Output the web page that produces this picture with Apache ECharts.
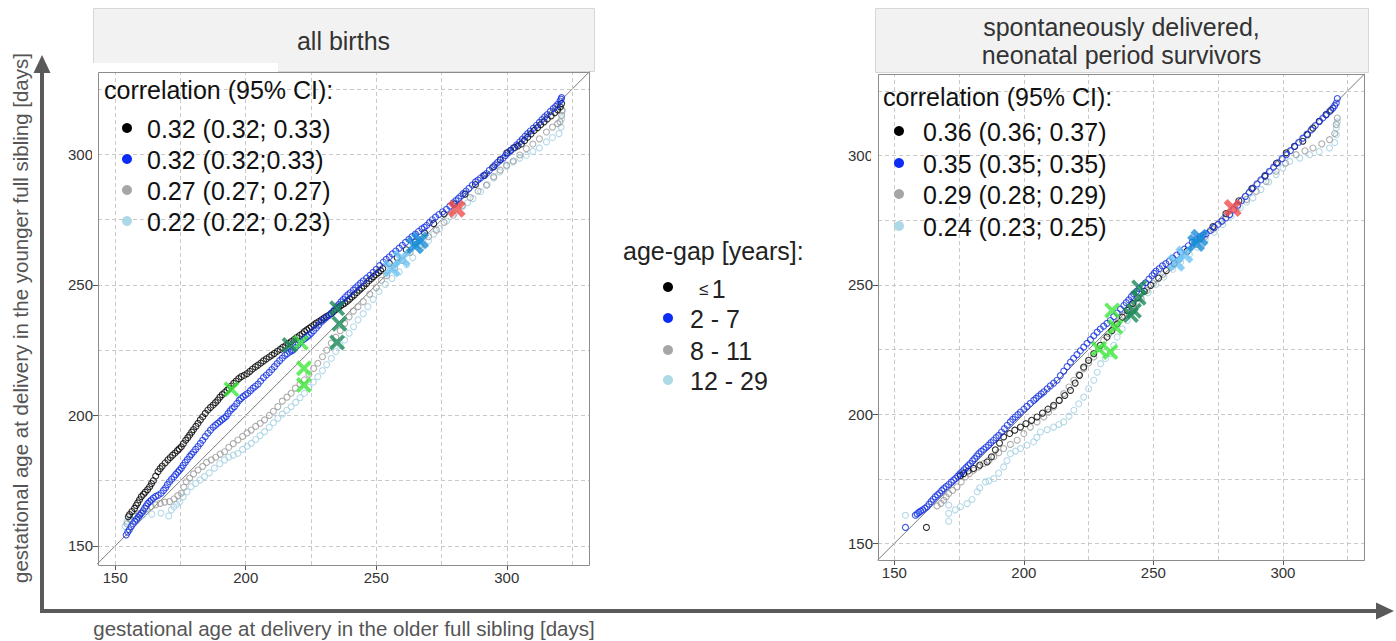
<!DOCTYPE html>
<html>
<head>
<meta charset="utf-8">
<script src="https://cdn.jsdelivr.net/npm/echarts@6/dist/echarts.min.js"></script>
<style>
html,body{margin:0;padding:0;background:#fff;}
#chart{width:1396px;height:641px;}
</style>
</head>
<body>
<div id="chart"></div>
<script>
// ---------------- data ----------------
const tickValues = [150, 200, 250, 300];
const gridValues = [150, 175, 200, 225, 250, 275, 300, 325];
const groupNames = ['≤ 1', '2 - 7', '8 - 11', '12 - 29'];
const panelTitles = ['all births', 'spontaneously delivered,\nneonatal period survivors'];
const corrTitle = 'correlation (95% CI):';
const legendTitle = 'age-gap [years]:';
const corrAll = ['0.32 (0.32; 0.33)', '0.32 (0.32;0.33)', '0.27 (0.27; 0.27)', '0.22 (0.22; 0.23)'];
const corrSpont = ['0.36 (0.36; 0.37)', '0.35 (0.35; 0.35)', '0.29 (0.28; 0.29)', '0.24 (0.23; 0.25)'];
const xAxisTitle = 'gestational age at delivery in the older full sibling [days]';
const yAxisTitle = 'gestational age at delivery in the younger full sibling [days]';

// panel 1: all births  [older sibling, younger sibling] quantiles
const allBlack = [[155.0,161.2],[155.5,162.0],[156.4,163.2],[157.4,164.4],[158.0,165.5],[158.6,166.5],[159.3,167.7],[160.0,168.9],[160.8,169.8],[161.5,170.6],[162.4,171.6],[163.2,172.7],[163.9,173.9],[164.6,175.0],[165.5,176.8],[166.4,178.5],[167.2,179.6],[168.0,180.6],[169.1,181.8],[170.2,183.0],[171.1,183.9],[172.0,184.8],[172.9,185.6],[173.8,186.5],[174.5,187.2],[175.3,188.0],[176.1,189.2],[177.0,190.5],[177.8,191.5],[178.5,192.5],[179.3,193.6],[180.0,194.6],[180.9,195.8],[181.7,197.0],[182.6,198.3],[183.5,199.5],[184.5,200.8],[185.5,202.1],[186.5,203.1],[187.5,204.0],[188.4,204.9],[189.3,205.9],[190.1,207.0],[191.0,208.0],[191.9,208.8],[192.8,209.6],[193.6,210.4],[194.4,211.3],[195.4,212.3],[196.3,213.2],[197.3,214.1],[198.3,214.9],[199.4,215.4],[200.5,216.0],[201.6,216.9],[202.6,217.8],[203.7,218.6],[204.7,219.3],[205.8,220.1],[206.8,220.9],[207.9,221.7],[209.0,222.4],[210.0,223.1],[211.0,223.8],[212.1,224.6],[213.2,225.3],[214.2,226.1],[215.3,226.8],[216.3,227.6],[217.4,228.3],[218.5,229.1],[219.5,229.8],[220.6,230.6],[221.6,231.3],[222.5,232.1],[223.4,232.8],[224.3,233.4],[225.1,234.0],[226.1,234.7],[227.0,235.4],[228.0,236.0],[229.0,236.6],[230.0,237.3],[230.9,237.9],[231.9,238.5],[232.8,239.1],[233.7,239.9],[234.6,240.6],[235.5,241.3],[236.3,242.0],[237.1,242.5],[237.9,243.0],[238.9,243.8],[239.8,244.6],[240.7,245.4],[241.6,246.2],[242.6,247.1],[243.5,248.0],[244.4,248.8],[245.3,249.6],[246.3,250.6],[247.2,251.6],[248.1,252.4],[249.0,253.2],[249.9,254.0],[250.8,254.7],[251.7,255.5],[252.5,256.3],[255.0,258.3],[258.0,260.5],[261.5,263.5],[265.0,266.5],[268.5,270.0],[272.0,273.5],[276.0,277.2],[280.0,281.0],[284.0,284.8],[288.0,288.5],[291.5,292.0],[295.0,295.3],[297.5,298.0],[300.0,300.6],[301.5,301.6],[303.0,302.6],[304.3,303.3],[305.6,304.0],[306.8,305.3],[308.0,306.6],[309.3,307.9],[310.5,309.2],[311.8,310.3],[313.0,311.4],[314.3,312.5],[315.5,313.6],[317.0,314.8],[318.4,316.0],[319.5,317.1],[320.5,318.2],[321.0,319.5]];
const allBlue = [[154.2,154.2],[154.8,155.3],[155.4,156.2],[156.1,157.4],[156.8,158.5],[157.5,159.5],[158.2,160.3],[158.8,161.0],[159.4,161.8],[160.0,162.5],[160.7,163.5],[161.3,164.5],[161.9,165.4],[162.5,166.3],[163.2,167.0],[163.8,167.6],[164.6,168.3],[165.5,169.0],[166.5,169.5],[167.6,170.2],[168.5,171.3],[169.3,172.3],[170.0,173.5],[170.8,174.6],[171.6,175.6],[172.5,176.5],[173.2,177.4],[174.0,178.3],[174.6,179.0],[175.3,179.8],[176.0,180.9],[176.8,182.0],[177.6,183.1],[178.5,184.2],[179.2,185.1],[180.0,186.0],[180.8,187.0],[181.7,188.1],[182.6,189.3],[183.5,190.5],[184.5,191.9],[185.5,193.2],[186.5,194.4],[187.5,195.5],[188.4,196.3],[189.3,197.0],[190.1,197.7],[190.9,198.4],[191.7,199.0],[192.5,199.6],[193.2,200.7],[194.0,201.8],[194.8,202.6],[195.7,203.4],[196.6,204.6],[197.5,205.8],[198.2,206.5],[199.0,207.2],[199.9,207.9],[200.8,208.5],[201.8,209.5],[202.8,210.5],[203.7,211.2],[204.7,212.0],[205.7,213.2],[206.8,214.5],[207.9,215.5],[209.0,216.5],[210.0,217.6],[211.0,218.7],[212.0,219.9],[213.0,221.0],[214.0,222.0],[215.0,223.0],[215.9,223.7],[216.8,224.3],[217.5,224.7],[218.1,225.1],[219.0,226.0],[220.0,227.0],[221.0,228.0],[222.0,229.0],[222.8,229.6],[223.6,230.2],[224.3,230.8],[225.1,231.5],[226.0,232.5],[227.0,233.5],[227.9,234.6],[228.9,235.8],[229.8,236.6],[230.8,237.5],[231.8,238.3],[232.8,239.1],[233.8,240.3],[234.8,241.6],[235.6,242.5],[236.5,243.5],[237.3,244.4],[238.2,245.4],[239.1,246.2],[240.0,247.0],[241.2,248.0],[242.1,248.9],[243.0,249.8],[244.0,250.7],[245.0,251.6],[246.3,252.6],[247.6,253.7],[248.8,254.8],[250.0,256.0],[251.3,257.4],[252.7,258.8],[253.8,259.8],[255.0,260.8],[256.2,261.9],[257.5,263.0],[258.8,264.1],[260.0,265.2],[261.2,266.3],[262.5,267.5],[263.7,268.5],[265.0,269.5],[266.2,270.5],[267.5,271.5],[268.4,272.1],[269.3,272.8],[270.4,273.9],[271.5,275.0],[272.7,276.0],[274.0,277.0],[275.4,278.0],[276.9,279.0],[278.2,280.2],[279.5,281.5],[280.5,282.3],[281.5,283.2],[282.4,284.1],[283.3,285.0],[284.4,286.0],[285.5,287.0],[286.8,288.3],[288.0,289.5],[289.0,290.2],[290.0,291.0],[291.1,291.9],[292.2,292.7],[293.3,293.9],[294.5,295.0],[295.5,296.0],[296.5,297.0],[297.5,297.8],[298.6,298.6],[299.5,299.6],[300.5,300.6],[301.5,301.5],[302.5,302.5],[303.8,303.7],[305.0,304.8],[306.0,305.9],[307.0,307.0],[308.0,308.0],[309.0,309.0],[310.2,310.1],[311.4,311.2],[312.5,312.3],[313.5,313.4],[314.5,314.4],[315.5,315.3],[316.7,316.5],[317.8,317.6],[318.7,318.4],[319.5,319.2],[320.4,320.5],[320.8,321.2],[321.0,321.8]];
const allGray = [[154.5,158.5],[156.0,160.0],[157.5,161.5],[159.0,162.3],[160.5,163.0],[162.0,164.2],[163.8,165.1],[165.5,165.8],[167.2,166.3],[169.0,166.8],[170.8,167.0],[172.5,168.0],[174.0,169.3],[175.3,170.2],[176.3,172.5],[177.2,174.6],[178.5,176.0],[180.0,177.6],[181.7,179.1],[183.5,180.5],[185.0,182.0],[186.8,183.0],[188.5,184.0],[190.2,185.2],[191.9,186.1],[193.5,187.8],[195.2,189.2],[197.0,190.6],[198.8,192.0],[200.5,193.3],[202.1,194.4],[203.8,195.8],[205.5,197.0],[207.2,198.3],[209.0,200.0],[210.6,201.6],[212.3,203.4],[214.0,205.5],[215.8,207.0],[217.4,208.5],[219.0,210.5],[220.8,212.0],[222.5,213.6],[224.2,215.8],[226.0,218.0],[227.6,220.0],[229.4,222.5],[231.0,225.0],[232.8,227.7],[234.5,230.0],[236.2,232.5],[237.9,235.3],[239.6,237.8],[241.2,240.0],[243.0,241.7],[245.0,243.6],[247.5,246.5],[250.0,249.0],[252.0,251.8],[254.0,253.6],[257.0,256.5],[260.0,259.4],[263.0,262.5],[266.8,265.2],[270.0,268.5],[273.0,271.0],[276.0,274.0],[279.5,276.7],[283.0,280.5],[286.0,283.5],[289.0,286.0],[292.2,288.2],[295.0,291.5],[297.5,294.0],[299.9,295.9],[302.5,297.5],[305.0,299.8],[307.5,302.2],[310.0,304.0],[312.5,306.0],[315.2,308.6],[317.5,310.5],[319.5,311.8],[320.4,312.5],[321.0,315.0],[321.2,317.0]];
const allLight = [[153.8,157.5],[154.5,159.3],[155.5,160.3],[157.0,161.0],[160.5,161.8],[164.0,162.2],[167.5,162.6],[170.5,161.5],[171.5,163.8],[172.5,165.0],[173.5,166.0],[174.7,167.0],[176.0,168.8],[177.5,170.8],[179.1,172.7],[180.8,174.0],[182.5,175.3],[184.2,176.6],[186.0,178.0],[188.0,179.8],[190.0,181.5],[191.9,183.0],[193.5,184.0],[195.2,184.8],[197.0,185.5],[198.8,187.0],[200.5,188.2],[202.1,189.3],[203.8,190.8],[205.5,192.3],[207.2,193.8],[209.0,195.5],[210.6,197.2],[212.3,198.9],[214.0,200.5],[215.7,202.0],[217.4,203.4],[219.1,205.0],[220.8,206.8],[222.5,208.5],[224.2,210.8],[225.9,212.8],[227.6,214.9],[229.4,217.2],[231.0,219.5],[232.8,221.9],[234.5,224.5],[236.2,226.8],[237.9,228.9],[239.6,231.5],[241.3,234.0],[243.0,236.6],[245.0,239.0],[246.8,241.7],[248.8,244.5],[251.0,247.5],[253.5,250.2],[256.0,252.5],[258.8,255.0],[261.6,257.8],[264.0,260.5],[267.0,263.8],[270.0,267.0],[272.0,269.5],[274.3,271.6],[277.0,274.5],[280.0,277.5],[283.0,280.0],[285.0,281.5],[287.1,283.1],[290.0,285.8],[292.5,288.5],[295.0,291.0],[297.3,293.3],[300.0,295.5],[302.4,297.1],[305.0,298.6],[307.5,299.7],[310.0,301.2],[312.5,302.5],[315.2,304.8],[317.5,306.5],[320.0,308.0],[320.8,310.5],[321.0,313.7],[321.2,316.5]];
const allLime = [[194.5,210.0],[221.1,227.9],[222.3,218.1],[222.3,211.7]];
const allDarkGreen = [[216.8,227.0],[235.0,241.1],[235.9,235.1],[235.0,228.0]];
const allSky = [[255.9,256.3],[259.7,260.1]];
const allAzure = [[264.8,265.2],[266.8,267.1]];
const allRed = [[280.8,279.2]];

// panel 2: spontaneously delivered, neonatal period survivors
const spBlack = [[162.4,156.2],[175.5,176.2],[176.8,177.0],[178.5,178.0],[180.6,179.0],[183.0,180.3],[185.8,181.5],[187.5,183.5],[189.0,186.2],[190.6,188.8],[192.2,191.2],[194.5,192.5],[196.5,193.8],[198.7,195.0],[200.8,196.3],[203.0,197.6],[205.1,198.9],[207.2,200.4],[209.3,201.9],[211.5,203.4],[213.7,205.3],[215.8,207.2],[218.0,209.2],[219.8,212.0],[221.5,215.0],[223.1,218.2],[225.0,220.8],[227.0,223.4],[229.5,226.6],[232.1,229.8],[234.0,232.3],[236.0,234.9],[238.0,237.5],[239.9,240.1],[242.0,242.8],[244.0,245.0],[246.5,247.5],[249.0,249.8],[252.0,252.6],[255.0,255.5],[258.0,258.2],[263.0,263.0],[268.0,267.8],[273.0,272.5],[278.0,277.5],[283.0,282.5],[288.0,287.2],[293.0,292.0],[297.5,297.0],[301.3,301.0],[304.5,303.5],[307.7,305.5],[309.5,308.0],[311.6,310.6],[314.0,313.2],[316.7,315.8],[318.5,317.5]];
const spBlue = [[154.3,156.2],[158.1,160.9],[158.8,161.5],[159.5,162.0],[160.2,162.5],[161.0,163.0],[161.8,163.6],[162.6,164.2],[163.4,165.2],[164.2,166.2],[165.0,167.1],[165.8,168.0],[166.7,168.8],[167.5,169.5],[168.3,170.4],[169.1,171.2],[170.0,172.0],[171.0,172.8],[172.0,173.7],[172.9,174.5],[173.7,175.2],[174.5,176.0],[175.3,176.9],[176.1,177.7],[176.9,178.5],[177.7,179.3],[178.5,180.1],[179.3,180.9],[180.2,181.9],[181.0,182.8],[181.8,183.8],[182.6,184.7],[183.5,185.6],[184.5,186.4],[185.4,187.2],[186.4,188.0],[187.3,189.0],[188.3,189.9],[189.3,190.9],[190.3,191.8],[191.4,193.1],[192.5,194.4],[193.6,195.7],[194.8,197.0],[195.7,198.0],[196.7,198.9],[197.7,199.8],[198.7,200.8],[200.0,201.9],[201.2,203.0],[202.5,204.2],[203.8,205.3],[204.7,206.1],[205.7,207.0],[206.7,207.8],[207.7,208.6],[209.0,209.8],[210.2,210.9],[211.5,212.0],[212.8,213.1],[214.1,214.9],[215.4,216.6],[216.7,218.4],[218.0,220.1],[219.2,221.6],[220.5,223.0],[221.8,224.5],[223.1,225.9],[224.4,227.4],[225.7,228.8],[227.0,230.3],[228.3,231.7],[229.5,232.9],[230.8,234.0],[232.1,235.1],[233.4,236.2],[234.7,237.7],[236.0,239.1],[237.3,240.6],[238.6,242.0],[239.5,243.1],[240.5,244.2],[241.5,245.4],[242.4,246.5],[243.5,247.5],[244.5,248.5],[245.8,249.7],[247.0,250.8],[248.3,252.2],[249.5,253.5],[250.3,254.4],[251.0,255.3],[252.3,256.3],[253.5,257.3],[254.8,258.2],[256.1,259.1],[257.5,260.3],[259.0,261.5],[260.5,262.6],[262.0,263.8],[263.5,265.1],[265.0,266.5],[266.5,267.5],[268.0,268.5],[269.2,269.2],[270.4,269.8],[272.0,271.0],[273.5,272.2],[275.0,273.4],[276.5,274.6],[278.0,275.9],[279.4,277.1],[281.0,279.0],[282.5,280.8],[284.0,282.5],[285.5,284.2],[287.0,285.8],[288.4,287.4],[290.0,289.0],[291.5,290.6],[293.2,292.3],[294.8,293.9],[296.4,295.5],[298.0,297.2],[299.7,298.8],[301.3,300.3],[302.9,301.9],[304.5,303.5],[306.1,305.1],[307.7,306.7],[309.3,308.3],[310.9,309.9],[312.5,311.6],[314.1,313.2],[315.4,314.5],[316.7,315.8],[318.0,317.0],[319.3,318.3],[320.0,319.3],[320.6,320.3],[321.0,322.0]];
const spGray = [[166.5,164.5],[168.0,165.5],[169.1,166.7],[170.0,168.0],[171.0,169.3],[172.5,170.5],[174.2,171.9],[175.8,173.8],[177.4,175.7],[179.0,177.0],[180.6,178.3],[182.5,179.6],[184.5,180.9],[186.5,182.2],[188.4,183.5],[190.3,185.1],[192.2,186.7],[194.8,188.3],[197.4,189.9],[200.0,192.5],[202.5,195.0],[205.1,197.0],[207.7,198.9],[209.6,200.8],[211.5,202.8],[213.5,205.4],[215.4,207.9],[217.4,210.5],[219.3,213.1],[221.2,215.3],[223.1,217.6],[225.0,219.8],[227.0,222.1],[228.9,225.3],[230.8,228.5],[232.8,231.1],[234.7,233.7],[236.7,235.9],[238.6,238.2],[240.5,240.4],[242.4,242.7],[245.0,245.0],[247.5,247.8],[250.0,250.5],[253.6,254.0],[257.0,257.0],[260.0,259.8],[263.0,262.8],[266.5,265.6],[270.0,268.8],[273.0,271.5],[276.0,274.5],[279.4,277.1],[282.5,280.2],[286.0,283.0],[289.7,286.1],[293.5,290.0],[297.4,293.9],[301.0,297.0],[305.1,300.3],[308.5,301.8],[311.6,302.9],[315.0,304.5],[318.0,306.1],[320.0,308.5],[320.6,311.9],[321.0,314.5]];
const spLight = [[154.3,160.9],[158.8,161.0],[171.0,158.6],[171.0,161.6],[171.0,164.8],[173.5,163.0],[175.5,164.2],[178.1,165.4],[180.0,167.0],[182.0,170.0],[183.0,171.5],[185.2,173.8],[186.5,174.2],[188.4,175.1],[190.3,177.2],[192.2,179.6],[193.5,182.0],[194.8,184.7],[196.8,185.7],[198.7,186.7],[201.2,188.0],[203.8,189.3],[205.0,191.0],[206.4,193.1],[209.0,194.0],[211.5,195.0],[213.5,196.0],[215.4,197.0],[217.4,199.2],[219.3,201.5],[221.2,204.0],[223.1,206.6],[225.0,209.8],[227.0,213.1],[228.3,216.2],[229.6,219.5],[231.5,221.5],[233.4,223.4],[234.7,226.6],[236.0,229.8],[238.0,233.0],[239.9,236.2],[241.8,239.5],[243.7,242.7],[245.5,244.5],[248.0,247.0],[251.0,250.1],[254.0,253.0],[257.5,256.0],[260.5,258.8],[263.9,261.7],[267.0,264.5],[270.0,267.5],[273.5,270.3],[276.8,273.3],[280.0,276.5],[283.5,279.8],[286.0,282.0],[288.4,283.6],[291.5,286.8],[294.5,289.8],[297.4,292.6],[300.0,295.2],[302.6,297.7],[306.5,299.0],[310.3,300.3],[314.0,301.5],[318.0,302.9],[320.0,305.0],[320.6,308.0],[320.6,310.6],[321.0,313.0]];
const spLime = [[234.1,240.1],[235.3,233.7],[228.9,225.3],[233.4,224.0]];
const spDarkGreen = [[244.5,249.0],[244.3,245.0],[242.5,240.0],[241.3,238.3]];
const spSky = [[258.8,258.5],[262.0,261.7]];
const spAzure = [[266.5,266.2],[267.8,268.2]];
const spRed = [[280.6,279.7]];

// ---------------- styling / layout ----------------
const FONT = '"Liberation Sans", Arial, Helvetica, sans-serif';
const groupColors = ['#000000', '#1230e0', '#9a9a9a', '#a3d0e2'];
const legendDotColors = ['#000000', '#0a2cf5', '#a6a6a6', '#add8e6'];
const crossColors = { lime: '#3ee83a', darkGreen: '#1b8a58', sky: '#6ec6f5', azure: '#1a8ed8', red: '#f24e4e' };
const panels = [
  { grid: { left: 98, top: 72, width: 491, height: 493 }, xr: [143.4, 331.5], yr: [142.7, 331.6],
    header: { x: 93, y: 8, w: 501, h: 63 },
    boxes: [{ x: 92, y: 63, w: 186, h: 10 }, { x: 92, y: 72, w: 250, h: 165 }, { x: 92, y: 237, w: 208, h: 23 }],
    corr: { titleX: 104, titleY: 90, dotX: 127, textX: 147, ys: [128, 159, 190, 221] },
    data: [allBlack, allBlue, allGray, allLight], labels: corrAll,
    crosses: { lime: allLime, darkGreen: allDarkGreen, sky: allSky, azure: allAzure, red: allRed } },
  { grid: { left: 878, top: 74, width: 486, height: 486 }, xr: [143.7, 331.3], yr: [143.6, 331.5],
    header: { x: 875, y: 8, w: 493, h: 64 },
    boxes: [{ x: 871, y: 73, w: 254, h: 169 }, { x: 871, y: 242, w: 217, h: 24 }],
    corr: { titleX: 883, titleY: 97, dotX: 899, textX: 923, ys: [131, 163, 194, 226] },
    data: [spBlack, spBlue, spGray, spLight], labels: corrSpont,
    crosses: { lime: spLime, darkGreen: spDarkGreen, sky: spSky, azure: spAzure, red: spRed } }
];

const crossPath = 'path://M0,1.7L1.7,0L5,3.3L8.3,0L10,1.7L6.7,5L10,8.3L8.3,10L5,6.7L1.7,10L0,8.3L3.3,5Z';
const crossPathBold = 'path://M0,2.2L2.2,0L5,2.8L7.8,0L10,2.2L7.2,5L10,7.8L7.8,10L5,7.2L2.2,10L0,7.8L2.8,5Z';

const grids = [], xAxes = [], yAxes = [], series = [], graphics = [];
panels.forEach((p, i) => {
  grids.push(Object.assign({ containLabel: false, show: false }, p.grid));
  const axisCommon = {
    type: 'value', gridIndex: i, scale: true,
    axisLine: { show: false },
    axisTick: { show: true, length: 5, lineStyle: { color: '#555' }, customValues: tickValues },
    axisLabel: { fontFamily: FONT, fontSize: 15, color: '#333', margin: 5, customValues: tickValues },
    splitLine: { show: false }
  };
  xAxes.push(Object.assign({}, axisCommon, { min: p.xr[0], max: p.xr[1] }));
  yAxes.push(Object.assign({}, axisCommon, { min: p.yr[0], max: p.yr[1] }));
  // identity reference line + dashed grid lines
  series.push({
    type: 'line', xAxisIndex: i, yAxisIndex: i, z: 1, silent: true, symbol: 'none', animation: false,
    data: [[p.xr[0] - 1, p.xr[0] - 1], [p.xr[1] + 1, p.xr[1] + 1]],
    clip: true,
    lineStyle: { color: '#7a7a7a', width: 1 },
    markLine: {
      silent: true, symbol: ['none', 'none'], animation: false, label: { show: false },
      lineStyle: { color: '#c9c9c9', width: 1, type: [4, 3] },
      data: gridValues.map(v => ({ xAxis: v })).concat(gridValues.map(v => ({ yAxis: v })))
    }
  });
  // Q-Q points, drawn light blue, gray, black, blue
  [3, 2, 0, 1].forEach(g => {
    series.push({
      type: 'scatter', name: groupNames[g], xAxisIndex: i, yAxisIndex: i, z: 5 + (g === 1 ? 1 : 0),
      symbol: 'circle', symbolSize: 6, animation: false, silent: true,
      itemStyle: { color: 'rgba(0,0,0,0)', borderColor: groupColors[g], borderWidth: 1.1 },
      data: p.data[g]
    });
  });
  Object.keys(p.crosses).forEach(k => {
    const bold = (k === 'red' || k === 'sky' || k === 'azure');
    series.push({
      type: 'scatter', xAxisIndex: i, yAxisIndex: i, z: 8, animation: false, silent: true,
      symbol: bold ? crossPathBold : crossPath,
      symbolSize: bold ? 18 : 16,
      itemStyle: { color: crossColors[k] },
      data: p.crosses[k]
    });
  });
  // header strip
  graphics.push({ type: 'rect', z: 0, shape: { x: p.header.x + 0.5, y: p.header.y + 0.5, width: p.header.w, height: p.header.h },
    style: { fill: '#f2f2f2', stroke: '#d6d6d6', lineWidth: 1 } });
  graphics.push({ type: 'text', z: 1, x: p.header.x + p.header.w / 2, y: p.header.y + p.header.h / 2 + 1,
    style: { text: panelTitles[i], fontFamily: FONT, fontSize: 25, fill: '#333', align: 'center', verticalAlign: 'middle', lineHeight: 28 } });
  // white legend box
  p.boxes.forEach(b => graphics.push({ type: 'rect', z: 3, shape: { x: b.x, y: b.y, width: b.w, height: b.h }, style: { fill: '#fff' } }));
  // panel border
  graphics.push({ type: 'rect', z: 10, silent: true,
    shape: { x: p.grid.left + 0.5, y: p.grid.top + 0.5, width: p.grid.width, height: p.grid.height },
    style: { fill: 'none', stroke: '#8c8c8c', lineWidth: 1 } });
  // correlation legend
  graphics.push({ type: 'text', z: 11, x: p.corr.titleX, y: p.corr.titleY,
    style: { text: corrTitle, fontFamily: FONT, fontSize: 25, fill: '#111', verticalAlign: 'middle' } });
  p.labels.forEach((t, g) => {
    graphics.push({ type: 'circle', z: 11, shape: { cx: p.corr.dotX, cy: p.corr.ys[g], r: 5 }, style: { fill: legendDotColors[g] } });
    graphics.push({ type: 'text', z: 11, x: p.corr.textX, y: p.corr.ys[g] + 1,
      style: { text: t, fontFamily: FONT, fontSize: 25, fill: '#111', verticalAlign: 'middle' } });
  });
});

// central age-gap legend
graphics.push({ type: 'text', z: 11, x: 623, y: 251,
  style: { text: legendTitle, fontFamily: FONT, fontSize: 25, fill: '#222', verticalAlign: 'middle' } });
const legYs = [287, 318, 350, 380];
groupNames.forEach((n, g) => {
  graphics.push({ type: 'circle', z: 11, shape: { cx: 668, cy: legYs[g], r: 5 }, style: { fill: legendDotColors[g] } });
  if (g === 0) {
    graphics.push({ type: 'text', z: 11, x: 699, y: legYs[g] + 2,
      style: { text: '{s|≤} {n|1}', verticalAlign: 'middle', fill: '#222',
        rich: { s: { fontFamily: FONT, fontSize: 17, fill: '#222' }, n: { fontFamily: FONT, fontSize: 25, fill: '#222' } } } });
  } else {
    graphics.push({ type: 'text', z: 11, x: 690, y: legYs[g] + 1,
      style: { text: n, fontFamily: FONT, fontSize: 25, fill: '#222', verticalAlign: 'middle' } });
  }
});

// big axis arrows and titles
const arrowColor = '#5a5a5a';
graphics.push({ type: 'line', z: 2, shape: { x1: 42, y1: 613, x2: 42, y2: 70 }, style: { stroke: arrowColor, lineWidth: 4 } });
graphics.push({ type: 'polygon', z: 2, shape: { points: [[42, 55], [33.5, 73], [50.5, 73]] }, style: { fill: arrowColor } });
graphics.push({ type: 'line', z: 2, shape: { x1: 40, y1: 611, x2: 1380, y2: 611 }, style: { stroke: arrowColor, lineWidth: 4 } });
graphics.push({ type: 'polygon', z: 2, shape: { points: [[1394, 611], [1376, 602.5], [1376, 619.5]] }, style: { fill: arrowColor } });
graphics.push({ type: 'text', z: 2, x: 344, y: 628,
  style: { text: xAxisTitle, fontFamily: FONT, fontSize: 20.5, fill: '#555', align: 'center', verticalAlign: 'middle' } });
graphics.push({ type: 'text', z: 2, x: 20, y: 318, rotation: Math.PI / 2,
  style: { text: yAxisTitle, fontFamily: FONT, fontSize: 20.5, fill: '#555', align: 'center', verticalAlign: 'middle' } });

const chart = echarts.init(document.getElementById('chart'), null, { renderer: 'svg', width: 1396, height: 641 });
chart.setOption({
  backgroundColor: '#fff',
  animation: false,
  grid: grids, xAxis: xAxes, yAxis: yAxes,
  series: series,
  graphic: { elements: graphics }
});
</script>
</body>
</html>
